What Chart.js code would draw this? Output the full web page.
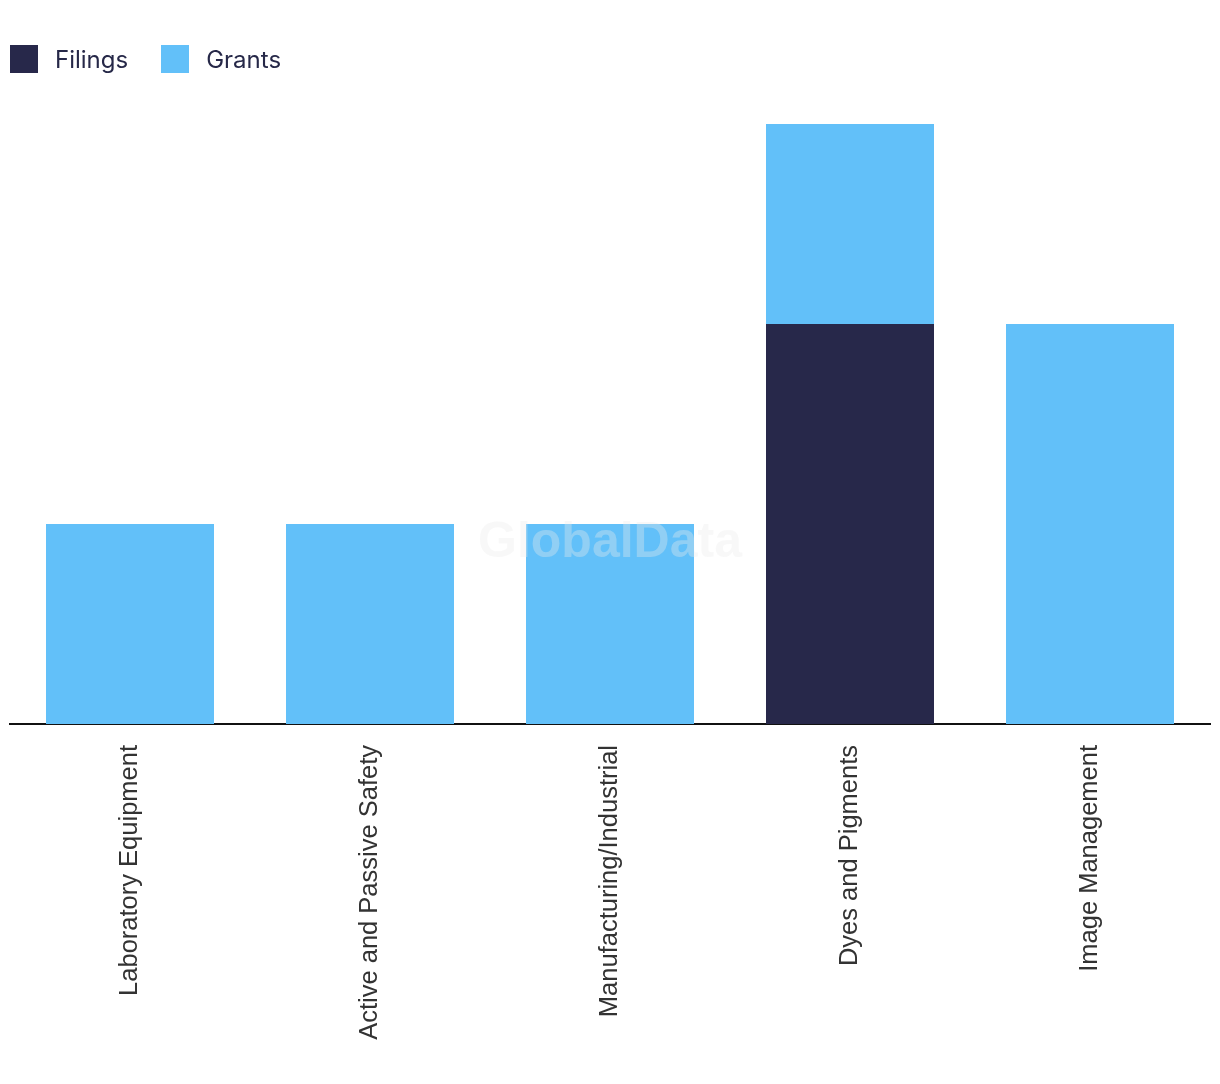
<!DOCTYPE html>
<html>
<head>
<meta charset="utf-8">
<script src="https://cdn.jsdelivr.net/npm/chart.js@4"></script>
<style>
  html, body { margin: 0; padding: 0; background: #fff; }
  #wrap { position: relative; width: 1220px; height: 1084px; }
  #legend { position: absolute; left: 10px; top: 45px; display: flex; align-items: center;
            font-family: Inter, "Noto Sans", sans-serif; font-size: 24px; color: #262848; }
  .item { display: flex; align-items: center; margin-right: 33px; height: 28px; }
  .box { width: 28px; height: 28px; margin-right: 17px; }
</style>
</head>
<body>
<div id="wrap">
  <canvas id="chart" width="1220" height="1084"></canvas>
  <div id="legend"></div>
</div>
<script>
// data
const categories = ['Laboratory Equipment', 'Active and Passive Safety', 'Manufacturing/Industrial', 'Dyes and Pigments', 'Image Management'];
const filings = [0, 0, 0, 2, 0];
const grants = [1, 1, 1, 1, 2];
const seriesNames = ['Filings', 'Grants'];
const seriesColors = ['#27284a', '#62c0f9'];

document.addEventListener('DOMContentLoaded', function() {

    // legend as plain html
    const legend = document.getElementById('legend');
    seriesNames.forEach(function(name, i) {
        const item = document.createElement('div');
        item.className = 'item';
        item.innerHTML = '<div class="box" style="background:' + seriesColors[i] + '"></div><span>' + name + '</span>';
        legend.appendChild(item);
    });

    // faint watermark in the middle
    const watermark = {
        id: 'watermark',
        afterDraw: function(chart) {
            const c = chart.ctx;
            c.save();
            c.font = 'bold 50px "Liberation Sans", Arial, sans-serif';
            c.fillStyle = 'rgba(235,235,235,0.35)';
            c.textAlign = 'center';
            c.textBaseline = 'middle';
            c.fillText('GlobalData', 610, 543);
            c.restore();
        }
    };

    new Chart(document.getElementById('chart'), {
        type: 'bar',
        data: {
            labels: categories,
            datasets: [
                { label: seriesNames[0], data: filings, backgroundColor: seriesColors[0] },
                { label: seriesNames[1], data: grants, backgroundColor: seriesColors[1] }
            ]
        },
        options: {
            responsive: false,
            animation: false,
            barPercentage: 0.7,
            categoryPercentage: 1,
            layout: { padding: { top: 124, left: 10, right: 10, bottom: 0 } },
            plugins: {
                legend: { display: false },
                tooltip: { enabled: false }
            },
            scales: {
                x: {
                    stacked: true,
                    grid: { display: false },
                    border: { display: true, color: '#111', width: 2 },
                    ticks: {
                        minRotation: 90,
                        maxRotation: 90,
                        padding: 13,
                        color: '#333',
                        font: { family: '"Liberation Sans", Arial, sans-serif', size: 25.5 }
                    },
                    afterFit: function(scale) { scale.height = 360; }
                },
                y: {
                    stacked: true,
                    display: false,
                    min: 0,
                    max: 3
                }
            }
        },
        plugins: [watermark]
    });
});
</script>
</body>
</html>
